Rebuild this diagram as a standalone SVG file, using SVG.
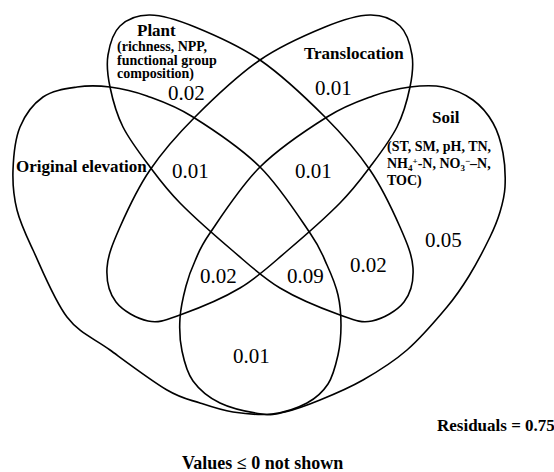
<svg xmlns="http://www.w3.org/2000/svg" xmlns:xlink="http://www.w3.org/1999/xlink" width="554" height="472" viewBox="0 0 554 472">
<style>
.shape{fill:none;stroke:#000;stroke-width:1.6;stroke-linejoin:round}
.lbl{font-family:"Liberation Serif","Times New Roman",serif;font-weight:bold;font-size:17px;fill:#000}
.sub{font-family:"Liberation Serif","Times New Roman",serif;font-weight:bold;font-size:14px;fill:#000}
.val{font-family:"Liberation Serif","Times New Roman",serif;font-size:21px;fill:#000}
</style>
<defs>
<path id="plantShape" d="M150,15 C162.5,15.2 176.7,19.5 195,27 C213.3,34.5 238.3,45 260,60 C281.7,75 306.7,98.7 325,117 C343.3,135.3 357.5,151.7 370,170 C382.5,188.3 392.8,210.7 400,227 C407.2,243.3 412.3,255.5 413,268 C413.7,280.5 410.8,293.2 404,302 C397.2,310.8 382.7,318.8 372,321 C361.3,323.2 355.3,320.5 340,315 C324.7,309.5 297.8,298.7 280,288 C262.2,277.3 249.7,265.2 233,251 C216.3,236.8 193.8,217 180,203 C166.2,189 159.5,179.7 150,167 C140.5,154.3 129.7,140.3 123,127 C116.3,113.7 112.5,99 110,87 C107.5,75 106.3,65.2 108,55 C109.7,44.8 113,32.7 120,26 C127,19.3 137.5,14.8 150,15 Z"/>
</defs>
<rect width="554" height="472" fill="#fff"/>
<g id="node-original-elevation">
<path class="shape" d="M77,87 C88.2,85.3 98.3,85.5 110,87 C121.7,88.5 133.2,91 147,96 C160.8,101 174.2,105.2 193,117 C211.8,128.8 240.5,147.7 260,167 C279.5,186.3 298.8,216.7 310,233 C321.2,249.3 322.3,254.7 327,265 C331.7,275.3 335.7,285 338,295 C340.3,305 341,315 341,325 C341,335 340.2,345.2 338,355 C335.8,364.8 333.2,376 328,384 C322.8,392 316.3,398 307,403 C297.7,408 284.3,412.5 272,414 C259.7,415.5 245,413.8 233,412 C221,410.2 211,406.7 200,403 C189,399.3 182,398.8 167,390 C152,381.2 126.7,362.2 110,350 C93.3,337.8 79.8,333.7 67,317 C54.2,300.3 41.3,267.8 33,250 C24.7,232.2 20.3,223.3 17,210 C13.7,196.7 12.5,183.8 13,170 C13.5,156.2 15,139.2 20,127 C25,114.8 33.5,103.7 43,97 C52.5,90.3 65.8,88.7 77,87 Z"/>
<text class="lbl" x="16" y="172">Original elevation</text>
</g>
<g id="node-plant">
<use xlink:href="#plantShape" href="#plantShape" class="shape"/>
<text class="lbl" x="137" y="36">Plant</text>
<text class="sub" x="117" y="50.5">(richness, NPP,</text>
<text class="sub" x="117" y="64.5">functional group</text>
<text class="sub" x="117" y="78">composition)</text>
</g>
<g id="node-translocation">
<use xlink:href="#plantShape" href="#plantShape" class="shape" transform="matrix(-1 0 0 1 520 0)"/>
<text class="lbl" x="304" y="59">Translocation</text>
</g>
<g id="node-soil">
<path class="shape" d="M443,87 C453.5,89.2 464.7,94 473,100 C481.3,106 488,114.2 493,123 C498,131.8 501,142.3 503,153 C505,163.7 505.5,177.2 505,187 C504.5,196.8 502.5,203.7 500,212 C497.5,220.3 495.2,226.3 490,237 C484.8,247.7 476.2,264.3 469,276 C461.8,287.7 457.3,294.7 447,307 C436.7,319.3 421,337.8 407,350 C393,362.2 377.5,371.7 363,380 C348.5,388.3 333,394.7 320,400 C307,405.3 294.7,409.7 285,412 C275.3,414.3 272.8,415.5 262,414 C251.2,412.5 231.5,408.5 220,403 C208.5,397.5 199.3,389.7 193,381 C186.7,372.3 184.2,361.5 182,351 C179.8,340.5 179.3,328.8 180,318 C180.7,307.2 183.5,295.5 186,286 C188.5,276.5 191,269.8 195,261 C199,252.2 199.2,248.7 210,233 C220.8,217.3 240.5,186.3 260,167 C279.5,147.7 308.2,128.8 327,117 C345.8,105.2 359.2,101 373,96 C386.8,91 398.3,88.5 410,87 C421.7,85.5 432.5,84.8 443,87 Z"/>
<text class="lbl" x="432" y="123">Soil</text>
<text class="sub" x="387" y="151">(ST, SM, pH, TN,</text>
<text class="sub" x="387" y="168">NH<tspan font-size="9" dy="3">4</tspan><tspan font-size="9" dy="-7">+</tspan><tspan dy="4">-N, NO</tspan><tspan font-size="9" dy="3">3</tspan><tspan font-size="9" dy="-7">−</tspan><tspan dy="4">–N,</tspan></text>
<text class="sub" x="387" y="185">TOC)</text>
</g>
<g id="values">
<text class="val" x="168" y="100">0.02</text>
<text class="val" x="315" y="95">0.01</text>
<text class="val" x="172" y="178">0.01</text>
<text class="val" x="295" y="178">0.01</text>
<text class="val" x="425" y="247">0.05</text>
<text class="val" x="200" y="283">0.02</text>
<text class="val" x="287" y="283">0.09</text>
<text class="val" x="350" y="272">0.02</text>
<text class="val" x="233" y="363">0.01</text>
</g>
<g id="notes">
<text class="lbl" x="437" y="431">Residuals = 0.75</text>
<text class="lbl" x="182" y="469" style="font-size:18px">Values ≤ 0 not shown</text>
</g>
</svg>
